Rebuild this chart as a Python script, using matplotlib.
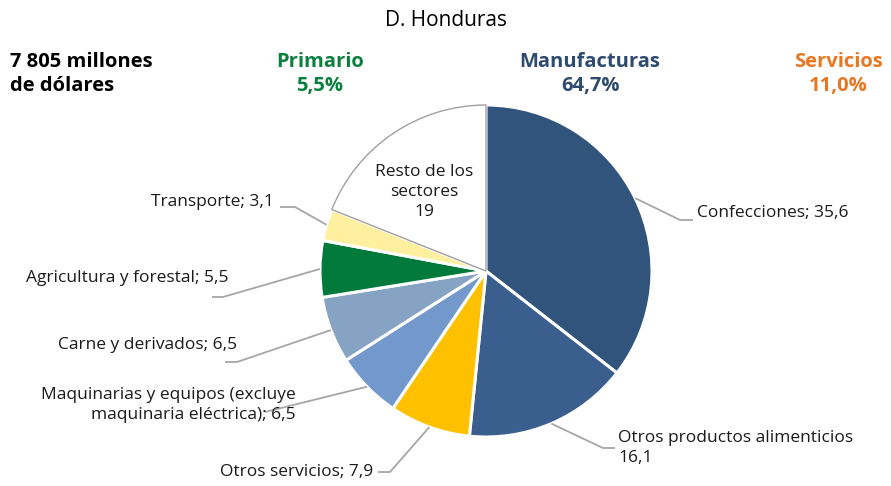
import numpy as np
import matplotlib
matplotlib.use("Agg")
import matplotlib.pyplot as plt

plt.rcParams['font.family'] = ['Open Sans', 'DejaVu Sans']

# ---- data ----
categories = ["Confecciones", "Otros productos alimenticios", "Otros servicios",
              "Maquinarias y equipos (excluye\nmaquinaria eléctrica)", "Carne y derivados",
              "Agricultura y forestal", "Transporte", "Resto de los\nsectores"]
values = [35.6, 16.1, 7.9, 6.5, 6.5, 5.5, 3.1, 19]
value_labels = ["35,6", "16,1", "7,9", "6,5", "6,5", "5,5", "3,1", "19"]
colors = ["#30547C", "#3A5F8F", "#FFC000", "#7399CC", "#87A3C3", "#007A3A", "#FFF0A0", "#FFFFFF"]

title = "D. Honduras"
total_text = "7 805 millones\nde dólares"
groups = ["Primario", "Manufacturas", "Servicios"]
group_shares = ["5,5%", "64,7%", "11,0%"]
group_colors = ["#0B7F3F", "#2E4A6E", "#E87722"]

W, H = 891, 486
fig = plt.figure(figsize=(W / 100, H / 100), dpi=100)
ax = fig.add_axes([0, 0, 1, 1])

cx, cy, R = 486, H - 271, 166
wedges, _ = ax.pie(values, startangle=90, counterclock=False, center=(cx, cy), radius=R,
                   colors=colors, wedgeprops=dict(edgecolor="white", linewidth=2.2))
wedges[-1].set_edgecolor("#A0A0A0")
wedges[-1].set_linewidth(1.0)
wedges[-1].set_zorder(2)

ax.set_xlim(0, W)
ax.set_ylim(0, H)
ax.set_aspect("equal")
ax.axis("off")

FS = 12.5
# label layout: (elbow_x, elbow_y, end_x, text_x, text_y, ha) in pixel coordinates (y from top)
layout = [
    (680, 220, 693, 697, 213, "left"),
    (603, 448, 615, 618, 448, "left"),
    (390, 472, 378, 373, 472, "right"),
    (265, 412, 265, 296, 405, "right"),
    (237, 362, 225, 237, 345, "right"),
    (223, 297, 212, 229, 278, "right"),
    (295, 207, 280, 274, 202, "right"),
]

total = sum(values)
cum = 0.0
for i, (cat, v, vl) in enumerate(zip(categories, values, value_labels)):
    mid = cum + v / 2
    cum += v
    ang = np.deg2rad(90 - 360 * mid / total)
    if i == len(values) - 1:
        ax.text(424, H - 192, f"{cat}\n{vl}", ha="center", va="center",
                fontsize=FS, linespacing=1.3, color="#1a1a1a", zorder=5)
        continue
    px, py = cx + R * np.cos(ang), cy + R * np.sin(ang)
    ex, ey, endx, tx, ty, ha = layout[i]
    ax.plot([px, ex, endx], [py, H - ey, H - ey], color="#A6A6A6", lw=1.3,
            solid_capstyle="butt", zorder=3)
    if i == 1:
        txt = f"{cat}\n{vl}"
    else:
        txt = f"{cat}; {vl}"
    ax.text(tx, H - ty, txt, ha=ha, va="center", fontsize=FS,
            linespacing=1.3, color="#1a1a1a")

# title and header
ax.text(446, H - 20, title, ha="center", va="center", fontsize=15, color="#000000")
ax.text(10, H - 74, total_text, ha="left", va="center", fontsize=14.5,
        fontweight="bold", linespacing=1.3, color="#000000")
gx = [320, 590, 838]
for x, g, s, c in zip(gx, groups, group_shares, group_colors):
    ax.text(x, H - 74, f"{g}\n{s}", ha="center", va="center", fontsize=14.5,
            fontweight="bold", linespacing=1.3, color=c)

fig.savefig("out.png", dpi=100)
